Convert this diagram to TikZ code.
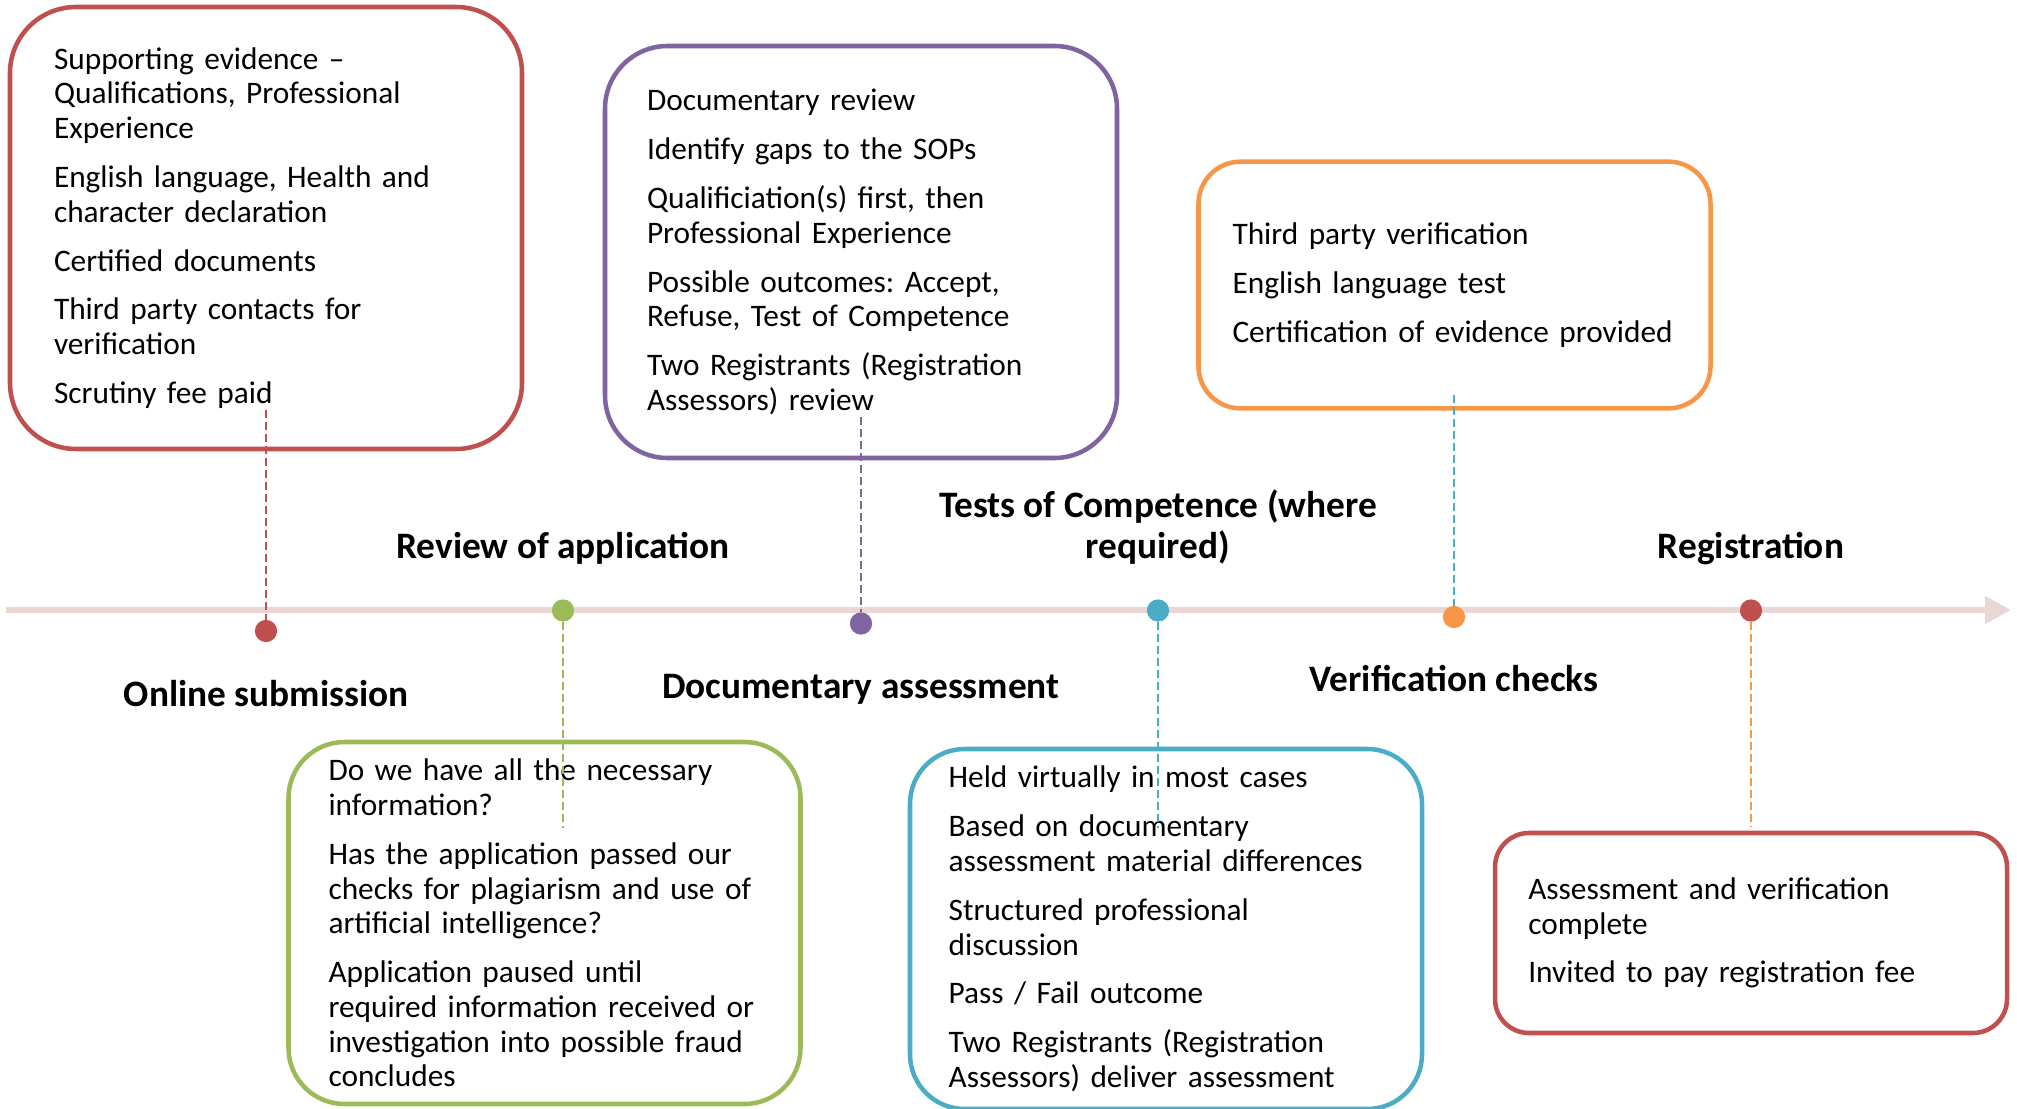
\documentclass[tikz,border=0pt]{standalone}
\usepackage{fontspec}
\setmainfont{Carlito}
\usepackage{tikz}
\usetikzlibrary{arrows.meta}
\frenchspacing

\definecolor{phred}{HTML}{C0504D}
\definecolor{phgreen}{HTML}{9BBB59}
\definecolor{phpurple}{HTML}{8064A2}
\definecolor{phblue}{HTML}{4BACC6}
\definecolor{phorange}{HTML}{F79646}
\definecolor{linepink}{HTML}{EBD6D6}

\newcommand{\stagetext}{\fontsize{23.5pt}{26pt}\selectfont}
\newcommand{\stagehead}{\fontsize{28pt}{30.9pt}\selectfont\bfseries}
\newcommand{\pgap}{\\[10.7pt]}

\tikzset{
  stagebox/.style n args={3}{draw=#1, line width=3.4pt, rounded corners=#2,
    inner xsep=#3, inner ysep=0pt, minimum width=384pt, align=left, font=\stagetext},
  stagelabel/.style={inner sep=0pt, align=center, font=\stagehead},
  dot/.style={circle, fill=#1, draw=none, inner sep=0pt, minimum size=16.7pt},
  guide/.style={draw=#1, line width=1.3pt, dash pattern=on 6pt off 3pt},
  timeline/.style={draw=linepink, line width=4.5pt, -{Triangle[length=19.5pt,width=20pt]}}
}

\begin{document}
\begin{tikzpicture}[x=0.75pt,y=0.75pt,yscale=-1,xscale=1]
\useasboundingbox (0,0) rectangle (2017,1109);

% Rounded Rect
\node[stagebox={phred}{49.5pt}{33pt}, minimum height=331.5pt, text width=318pt] (subbox) at (266,228)
  {Supporting evidence --\\Qualifications, Professional\\Experience\pgap
   English language, Health and\\character declaration\pgap
   Certified documents\pgap
   Third party contacts for\\verification\pgap
   Scrutiny fee paid};
% Rounded Rect
\node[stagebox={phpurple}{47pt}{31.5pt}, minimum height=309pt, text width=321pt] (docbox) at (861,252)
  {Documentary review\pgap
   Identify gaps to the SOPs\pgap
   Qualificiation(s) first, then\\Professional Experience\pgap
   Possible outcomes: Accept,\\Refuse, Test of Competence\pgap
   Two Registrants (Registration\\Assessors) review};
% Rounded Rect
\node[stagebox={phorange}{31.5pt}{25.5pt}, minimum height=185pt, text width=333pt] (verbox) at (1454.5,285)
  {Third party verification\pgap
   English language test\pgap
   Certification of evidence provided};
% Rounded Rect
\node[stagebox={phgreen}{42pt}{30pt}, minimum height=271.5pt, text width=324pt] (revbox) at (544.5,923)
  {Do we have all the necessary\\information?\pgap
   Has the application passed our\\checks for plagiarism and use of\\artificial intelligence?\pgap
   Application paused until\\required information received or\\investigation into possible fraud\\concludes};
% Rounded Rect
\node[stagebox={phblue}{41pt}{29pt}, minimum height=270pt, text width=326pt] (tocbox) at (1166,929)
  {Held virtually in most cases\pgap
   Based on documentary\\assessment material differences\pgap
   Structured professional\\discussion\pgap
   Pass / Fail outcome\pgap
   Two Registrants (Registration\\Assessors) deliver assessment};
% Rounded Rect
\node[stagebox={phred}{25.5pt}{25pt}, minimum height=150pt, text width=334pt] (regbox) at (1751,933)
  {Assessment and verification\\complete\pgap
   Invited to pay registration fee};

% Straight Lines
\coordinate (tstart) at (6,610);
\coordinate (tend) at (2011,610);
\draw[timeline] (tstart) -- (tend);

% Circles
\node[dot=phred] (sub) at (266,631) {};
\node[dot=phgreen] (rev) at (563,610.5) {};
\node[dot=phpurple] (doc) at (861,623.5) {};
\node[dot=phblue] (toc) at (1158,610.5) {};
\node[dot=phorange] (ver) at (1454,617) {};
\node[dot=phred] (reg) at (1751,610.5) {};

% Dashed Lines
\coordinate (subend) at (266,410);
\coordinate (docend) at (861,417);
\coordinate (verend) at (1454,395);
\coordinate (revend) at (563,828);
\coordinate (tocend) at (1158,828);
\coordinate (regend) at (1751,827);
\draw[guide=phred] (subend) -- (sub);
\draw[guide=phpurple] (docend) -- (doc);
\draw[guide=phblue] (verend) -- (ver);
\draw[guide=phgreen] (rev) -- (revend);
\draw[guide=phblue] (toc) -- (tocend);
\draw[guide=phorange] (reg) -- (regend);

% Text Node
\node[stagelabel, anchor=base] (subhead) at (266,706.5) {Online submission};
\node[stagelabel, anchor=base] (revhead) at (563,558.5) {Review of application};
\node[stagelabel, anchor=base] (dochead) at (861,698.5) {Documentary assessment};
\node[stagelabel, anchor=base] (tochead) at (1158,558.5) {Tests of Competence (where\\required)};
\node[stagelabel, anchor=base] (verhead) at (1454,691.5) {Verification checks};
\node[stagelabel, anchor=base] (reghead) at (1751,558.5) {Registration};

\end{tikzpicture}
\end{document}
